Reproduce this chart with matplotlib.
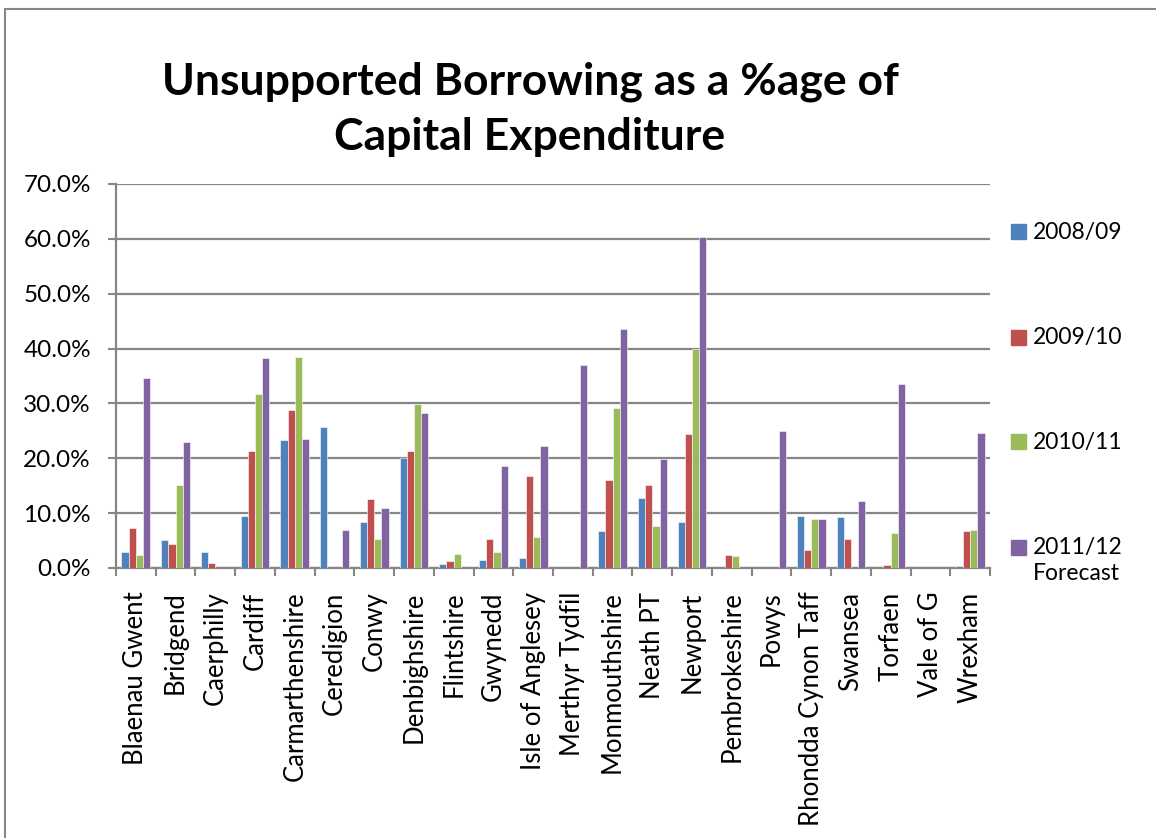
import matplotlib
matplotlib.use('Agg')
import matplotlib.pyplot as plt
from matplotlib.patches import Rectangle
from matplotlib.ticker import FuncFormatter, FixedLocator
import numpy as np

plt.rcParams['font.family'] = ['Lato', 'DejaVu Sans']

# ─── data ──────────────────────────────────────────────────────────────
councils = [
    'Blaenau Gwent', 'Bridgend', 'Caerphilly', 'Cardiff', 'Carmarthenshire',
    'Ceredigion', 'Conwy', 'Denbighshire', 'Flintshire', 'Gwynedd',
    'Isle of Anglesey', 'Merthyr Tydfil', 'Monmouthshire', 'Neath PT',
    'Newport', 'Pembrokeshire', 'Powys', 'Rhondda Cynon Taff', 'Swansea',
    'Torfaen', 'Vale of G', 'Wrexham',
]
series_labels = ['2008/09', '2009/10', '2010/11', '2011/12\nForecast']

y2008 = [2.9, 5.1, 3.0, 9.5, 23.3, 25.7, 8.4, 20.1, 0.7, 1.4, 1.8,
         0.0, 6.7, 12.7, 8.4, 0.0, 0.0, 9.5, 9.3, 0.0, 0.0, 0.4]
y2009 = [7.3, 4.4, 1.0, 21.4, 28.8, 0.0, 12.6, 21.3, 1.3, 5.3, 16.7,
         0.0, 16.1, 15.1, 24.4, 2.3, 0.0, 3.2, 5.2, 0.5, 0.0, 6.7]
y2010 = [2.3, 15.1, 0.0, 31.8, 38.5, 0.0, 5.2, 29.9, 2.5, 2.9, 5.6,
         0.0, 29.2, 7.6, 39.9, 2.1, 0.0, 8.9, 0.0, 6.3, 0.0, 6.9]
y2011 = [34.7, 22.9, 0.0, 38.2, 23.6, 6.9, 10.9, 28.2, 0.0, 18.6, 22.2,
         37.0, 43.5, 19.8, 60.4, 0.0, 25.0, 9.0, 12.2, 33.6, 0.0, 24.7]

colors = ['#4F81BD', '#C0504D', '#9BBB59', '#8064A2']
grid_col = '#868686'

# ─── figure ────────────────────────────────────────────────────────────
fig = plt.figure(figsize=(11.56, 8.38), dpi=100, facecolor='white')
ax = fig.add_axes([116 / 1156, 1 - 568 / 838, 874 / 1156, 384 / 838])

x = np.arange(len(councils))
bw = 1 / 5.5
for i, vals in enumerate([y2008, y2009, y2010, y2011]):
    ax.bar(x + (i - 1.5) * bw, vals, width=bw, color=colors[i],
           edgecolor='white', linewidth=0.4, zorder=3)

ax.set_xlim(-0.5, len(councils) - 0.5)
ax.set_ylim(0, 70)
ax.set_yticks(np.arange(0, 71, 10))
ax.yaxis.set_major_formatter(FuncFormatter(lambda v, p: f'{v:.1f}%'))
ax.yaxis.grid(True, color=grid_col, linewidth=1.6, zorder=0)
ax.set_axisbelow(True)

ax.set_xticks(x)
ax.set_xticklabels(councils, rotation=90, fontsize=18.5, va='top')
ax.xaxis.set_minor_locator(FixedLocator(np.arange(-0.5, len(councils), 1)))
ax.tick_params(axis='x', which='major', length=0, pad=17)
ax.tick_params(axis='x', which='minor', length=6, width=1.5, color=grid_col,
               direction='out')
ax.tick_params(axis='y', length=6, width=1.5, color=grid_col, pad=12,
               labelsize=17.5)

for side in ['top', 'right']:
    ax.spines[side].set_visible(False)
for side in ['left', 'bottom']:
    ax.spines[side].set_color(grid_col)
    ax.spines[side].set_linewidth(1.6)

# title
fig.text(530 / 1156, 1 - 109 / 838,
         'Unsupported Borrowing as a %age of\nCapital Expenditure',
         ha='center', va='center', fontsize=32, fontweight='bold',
         linespacing=1.45)

# legend, laid out like the Excel one (spread down the right side)
leg_y = [232, 337, 442, 547]
for col, lab, yy in zip(colors, series_labels, leg_y):
    fig.patches.append(Rectangle(((1011) / 1156, 1 - (yy + 7.5) / 838),
                                 15 / 1156, 15 / 838, color=col,
                                 transform=fig.transFigure))
    fig.text(1033 / 1156, 1 - (yy - 10) / 838, lab, ha='left', va='top',
             fontsize=16.5, linespacing=1.3)

# outer chart border (clipped by the image edge on right/bottom)
fig.patches.append(Rectangle((5 / 1156, -0.05), 1.2, 1 - 9 / 838 + 0.05,
                             fill=False, edgecolor=grid_col, linewidth=1.5,
                             transform=fig.transFigure))

fig.savefig('out.png', dpi=100, facecolor='white')
